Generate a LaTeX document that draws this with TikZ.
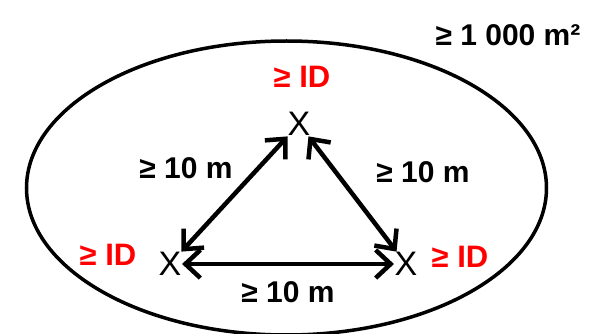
\documentclass[tikz,border=0pt]{standalone}
\usepackage{fontspec}
\setmainfont{Liberation Sans}
\usepackage{xcolor}
\definecolor{idred}{RGB}{255, 0, 0}
\usetikzlibrary{arrows.meta}

\tikzset{
    cross/.style={font=\fontsize{34}{34}\selectfont, inner sep=0.5pt},
    idlabel/.style={font=\fontsize{31}{31}\selectfont\bfseries, text=idred, inner sep=0pt},
    distlabel/.style={font=\fontsize{30}{30}\selectfont\bfseries, inner sep=0pt},
    gap/.style={<->, line width=4.5pt}
}

\begin{document}
\begin{tikzpicture}[x=1pt, y=-1pt, >={Straight Barb[length=15pt, width=28pt]}]
    \useasboundingbox (0,0) rectangle (595,334);

    % site boundary
    \draw[line width=3.5pt] (286.5,188) ellipse [x radius=260, y radius=147];
    \node[distlabel] (area) at (508,35) {≥ 1 000 m²};

    % the three points
    \node[cross] (top) at (299,124) {X};
    \node[cross] (left) at (170,264) {X};
    \node[cross] (right) at (406,264) {X};

    \node[idlabel] (topid) at (302,77) {≥ ID};
    \node[idlabel] (leftid) at (108,255) {≥ ID};
    \node[idlabel] (rightid) at (460,257) {≥ ID};

    % distances
    \draw[gap] (left) -- (top);
    \draw[gap] (top) -- (right);
    \draw[gap] (left) -- (right);

    \node[distlabel] (leftdist) at (186,168) {≥ 10 m};
    \node[distlabel] (rightdist) at (423,172) {≥ 10 m};
    \node[distlabel] (bottomdist) at (288,292) {≥ 10 m};
\end{tikzpicture}
\end{document}
